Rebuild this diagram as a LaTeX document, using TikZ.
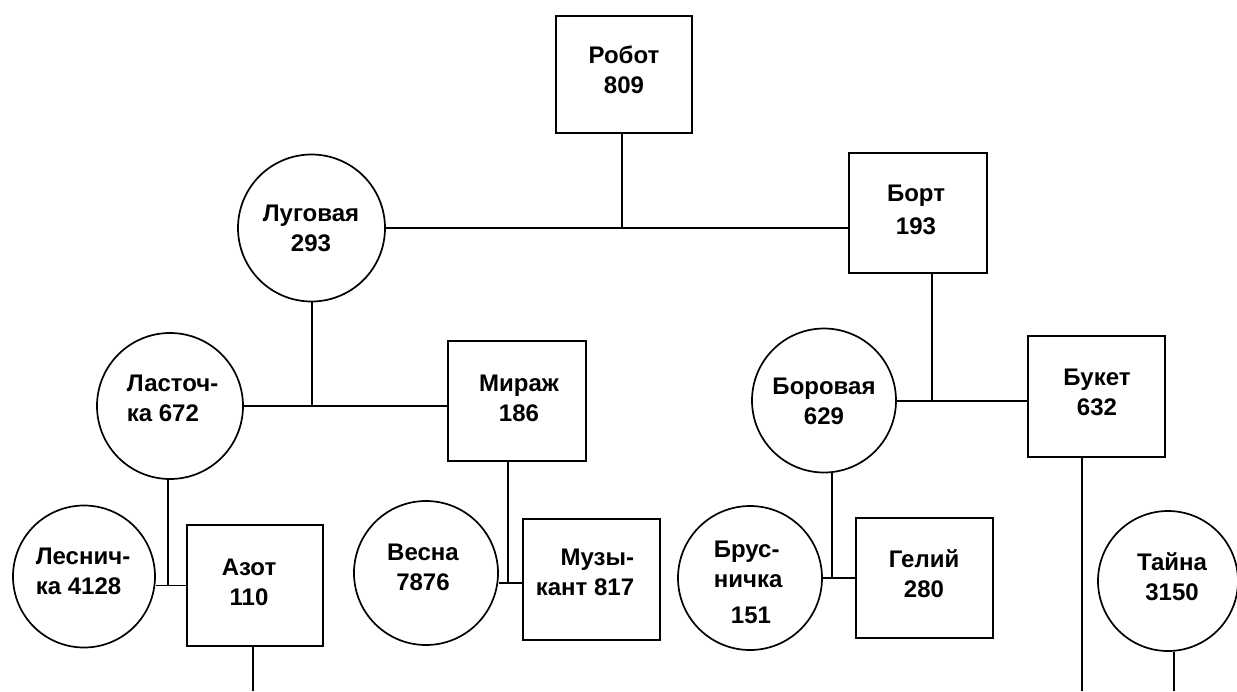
\documentclass[tikz,border=0pt]{standalone}
\usepackage{fontspec}
\setmainfont{Liberation Sans}
\begin{document}
\begin{tikzpicture}[x=1pt,y=-1pt,line width=1.7pt,
  pbox/.style={draw,rectangle,inner sep=0pt,minimum width=137pt,minimum height=120pt},
  pcirc/.style={draw,circle,inner sep=0pt,minimum size=#1},
  txt/.style={font=\fontsize{24}{30}\selectfont\bfseries,inner sep=0pt,align=center}]
\fill[white] (0,0) rectangle (1237,691);
\useasboundingbox (0,0) rectangle (1237,691);
% boxes
\node[pbox,minimum width=136pt,minimum height=117pt] (robot) at (624,74.5) {};
\node[pbox,minimum width=138pt] (bort) at (918,213) {};
\node[pbox,minimum width=138pt] (miraj) at (517,401) {};
\node[pbox,minimum height=121pt] (buket) at (1096.5,396.5) {};
\node[pbox,minimum width=136pt,minimum height=121pt] (azot) at (255,585.5) {};
\node[pbox,minimum height=121pt] (muz) at (591.5,579.5) {};
\node[pbox] (geliy) at (924.5,578) {};
% circles
\node[pcirc=147pt] (lug) at (311.5,228) {};
\node[pcirc=146pt] (last) at (170,406) {};
\node[pcirc=142pt] (les) at (84,576.5) {};
\node[pcirc=144pt] (vesna) at (426,573) {};
\node[pcirc=144pt] (bor) at (824,400.5) {};
\node[pcirc=144pt] (brus) at (750,578) {};
\node[pcirc=140pt] (tayna) at (1168,581) {};
% texts
\node[txt] (robotT) at (624,70) {Робот\\809};
\node[txt] (bortT) at (916,210) {Борт\\[3pt]193};
\node[txt] (lugT) at (311,228) {Луговая\\293};
\node[txt,align=left,anchor=west] (lastT) at (126,398) {Ласточ-\\ка 672};
\node[txt,align=left,anchor=west] (lesT) at (35,571) {Леснич-\\ка 4128};
\node[txt] (azotT) at (249,582) {Азот\\110};
\node[txt] (mirajT) at (519,398) {Мираж\\186};
\node[txt] (vesnaT) at (423,567) {Весна\\7876};
\node[txt,align=right,anchor=east] (muzT) at (635,572) {Музы-\\кант 817};
\node[txt] (borT) at (824,401) {Боровая\\629};
\node[txt] (buketT) at (1097,392) {Букет\\632};
\node[txt,align=left,anchor=west] (brusT) at (713,564) {Брус-\\ничка};
\node[txt] (brusN) at (751,615) {151};
\node[txt] (geliyT) at (924,574) {Гелий\\280};
\node[txt] (taynaT) at (1172,577) {Тайна\\3150};
% junctions
\coordinate (rj) at (622,228);
\coordinate (lj) at (312,406);
\coordinate (laj) at (168,585.5);
\coordinate (mj) at (508,583);
\coordinate (bj) at (932,401);
\coordinate (gj) at (832,578);
\coordinate (azB) at (253,691);
\coordinate (buB) at (1082,691);
\coordinate (taB) at (1174,691);
% connectors
\draw (lug.east) -- (lug.east -| bort.west);
\draw (rj |- robot.south) -- (rj);
\draw (last.east) -- (last.east -| miraj.west);
\draw (lj |- lug.south) -- (lj);
\draw (azot.west) -- (azot.west -| les.east);
\draw (laj |- last.south) -- (laj);
\draw (vesna.east |- mj) -- (muz.west |- mj);
\draw (mj |- miraj.south) -- (mj);
\draw (bor.east |- bj) -- (buket.west |- bj);
\draw (bj |- bort.south) -- (bj);
\draw (brus.east |- gj) -- (geliy.west |- gj);
\draw (gj |- bor.south) -- (gj);
\draw (azB |- azot.south) -- (azB);
\draw (buB |- buket.south) -- (buB);
\draw (taB |- tayna.south) -- (taB);
\end{tikzpicture}
\end{document}
